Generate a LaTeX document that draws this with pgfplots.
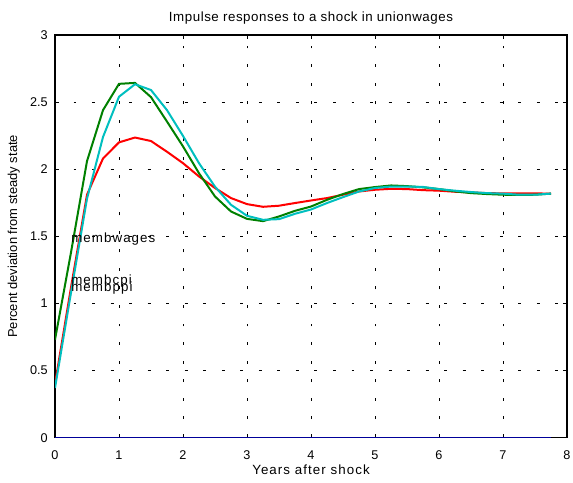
\documentclass[border=0pt]{standalone}
\usepackage{fontspec}
\setmainfont{Liberation Sans}
\usepackage{pgfplots}
\pgfplotsset{compat=1.18}
\usetikzlibrary{calc}

\definecolor{mred}{rgb}{1,0,0}
\definecolor{mgreen}{rgb}{0,0.5,0}
\definecolor{mcyan}{rgb}{0,0.75,0.75}
\definecolor{mblue}{rgb}{0,0,0.6}

\pgfplotstableread{
x     wages  cpi    ppi
0     0.40   0.73   0.37
0.25  1.12   1.38   1.08
0.5   1.81   2.06   1.78
0.75  2.08   2.44   2.24
1.0   2.20   2.636  2.54
1.25  2.236  2.643  2.633
1.5   2.21   2.537  2.59
1.75  2.13   2.355  2.44
2.0   2.045  2.17   2.248
2.25  1.946  1.97   2.045
2.5   1.86   1.797  1.87
2.75  1.785  1.685  1.735
3.0   1.74   1.63   1.653
3.25  1.72   1.613  1.623
3.5   1.728  1.648  1.628
3.75  1.748  1.69   1.668
4.0   1.767  1.722  1.70
4.25  1.785  1.772  1.748
4.5   1.81   1.815  1.792
4.75  1.834  1.852  1.834
5.0   1.847  1.867  1.86
5.25  1.854  1.879  1.871
5.5   1.852  1.874  1.871
5.75  1.844  1.865  1.868
6.0   1.84   1.852  1.852
6.25  1.832  1.835  1.84
6.5   1.827  1.822  1.83
6.75  1.822  1.815  1.822
7.0   1.82   1.81   1.818
7.25  1.82   1.808  1.81
7.5   1.82   1.81   1.81
7.75  1.818  1.818  1.818
}\irf

% MATLAB-style loose letter spacing
\newfontfamily\wide[LetterSpace=8]{Liberation Sans}
\newfontfamily\semiwide[LetterSpace=4]{Liberation Sans}
\newcommand\lbl{\fontsize{10}{12}\selectfont}

\begin{document}
\begin{tikzpicture}
\begin{axis}[
    name=ax,
    scale only axis,
    width=384pt, height=302pt,
    xmin=0, xmax=8, ymin=0, ymax=3,
    xtick={0,1,...,8},
    ytick={0,0.5,1,1.5,2,2.5,3},
    yticklabels={0,0.5,1,1.5,2,2.5,3},
    xticklabels={0,1,2,3,4,5,6,7,8},
    tick label style={font=\fontsize{9.5}{11}\selectfont},
    xticklabel style={yshift=-6pt},
    yticklabel style={xshift=-2pt},
    title={\semiwide\lbl Impulse responses to a shock in unionwages},
    title style={at={(axis description cs:0.5,1)}, anchor=center, yshift=6.5pt},
    xlabel={\wide\lbl Years after shock},
    xlabel style={at={(axis description cs:0.5,0)}, anchor=center, yshift=-24pt},
    ylabel={\fontsize{9.7}{11}\selectfont Percent deviation from steady state},
    ylabel style={at={(axis description cs:0,0.5)}, anchor=center, yshift=31pt},
    grid=major,
    major grid style={black, line width=0.6pt, dash pattern=on 2.2pt off 11.7pt},
    axis line style={black, line width=1pt},
    tick align=inside,
    major tick length=3pt,
    tick style={black, line width=0.6pt},
]
\addplot[mred, line width=1.5pt] table[x=x, y=wages] {\irf};
\addplot[mgreen, line width=1.5pt] table[x=x, y=cpi] {\irf};
\addplot[mcyan, line width=1.5pt] table[x=x, y=ppi] {\irf};
\addplot[mblue, line width=1.5pt] coordinates {(0,0) (7.75,0)};

\node[anchor=west, inner sep=0pt, font=\wide\lbl] at (axis cs:0.25,1.48) {membwages};
\node[anchor=west, inner sep=0pt, font=\wide\lbl] at (axis cs:0.25,1.165) {membcpi};
\node[anchor=west, inner sep=0pt, font=\wide\lbl] at (axis cs:0.25,1.115) {membppi};
\end{axis}
\pgfresetboundingbox
\path ($(ax.south west)+(-41.25pt,-33.75pt)$) rectangle ($(ax.north east)+(4.5pt,26.25pt)$);
\end{tikzpicture}
\end{document}
